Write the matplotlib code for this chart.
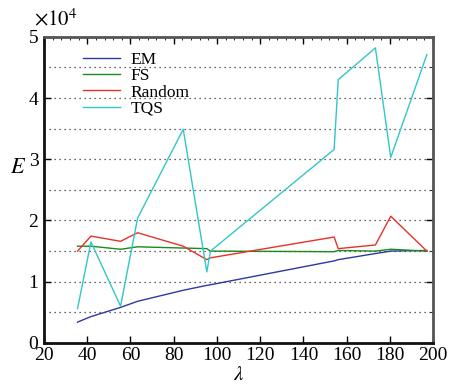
import matplotlib
matplotlib.use("Agg")
import matplotlib.pyplot as plt
from matplotlib.ticker import MultipleLocator, FuncFormatter

plt.rcParams['font.family'] = ['Liberation Serif', 'DejaVu Serif']
plt.rcParams['mathtext.fontset'] = 'stix'

lam = [35.5, 41.7, 55.4, 63.3, 84.4, 95.3, 97.0, 154.2, 156.1, 173.3, 180.4, 197.1]
em = [0.34, 0.43, 0.58, 0.68, 0.86, 0.94, 0.95, 1.34, 1.36, 1.46, 1.50, 1.51]
fs = [1.58, 1.58, 1.53, 1.57, 1.55, 1.54, 1.50, 1.49, 1.51, 1.50, 1.53, 1.50]
rnd = [1.50, 1.745, 1.66, 1.80, 1.58, 1.36, 1.39, 1.73, 1.54, 1.60, 2.07, 1.50]
tqs = [0.56, 1.65, 0.60, 2.04, 3.49, 1.16, 1.50, 3.16, 4.30, 4.82, 3.03, 4.71]
labels = ['EM', 'FS', 'Random', 'TQS']
colors = ['#2b3a9e', '#1a8a1a', '#e8312a', '#33c6c6']

fig = plt.figure(figsize=(4.54, 3.84), dpi=100)
ax = fig.add_axes([0.097, 0.107, 0.857, 0.797])

for ys, lab, c in zip([em, fs, rnd, tqs], labels, colors):
    ax.plot(lam, ys, color=c, lw=1.0, label=lab)

ax.set_xlim(20, 200)
ax.set_ylim(0, 5)
ax.xaxis.set_major_locator(MultipleLocator(20))
ax.yaxis.set_major_locator(MultipleLocator(1))
ax.yaxis.set_minor_locator(MultipleLocator(0.5))
ax.xaxis.set_minor_locator(MultipleLocator(4))
ax.yaxis.set_major_formatter(FuncFormatter(lambda v, p: f"{int(v)}"))
ax.grid(axis='y', which='both', linestyle=(0, (1, 3)), color='#333333', lw=0.9)

ax.tick_params(which='major', direction='in', length=5, labelsize=14, top=True, right=True, width=1)
ax.tick_params(which='minor', direction='in', length=2, top=True, right=True, bottom=False, left=False)
ax.tick_params(axis='x', pad=3)
ax.tick_params(axis='y', pad=4)

for s in ['left', 'bottom']:
    ax.spines[s].set_linewidth(2)
    ax.spines[s].set_color('#111111')
for s in ['top', 'right']:
    ax.spines[s].set_linewidth(2)
    ax.spines[s].set_color('#555555')

ax.set_xlabel(r'$\lambda$', fontsize=15)
ax.xaxis.set_label_coords(0.5, -0.075)
ax.xaxis.label.set_va('top')
ax.set_ylabel(r'$E$', fontsize=16, rotation=0, va='center', ha='center')
ax.yaxis.set_label_coords(-0.068, 0.571)
fig.text(0.075, 0.935, r'$\times10^4$', fontsize=15)

leg = ax.legend(loc='upper left', bbox_to_anchor=(0.07, 0.99), frameon=False,
                handlelength=2.1, handletextpad=0.6, labelspacing=0.0, fontsize=12.5,
                borderaxespad=0.3)

fig.savefig('out.png', dpi=100)
